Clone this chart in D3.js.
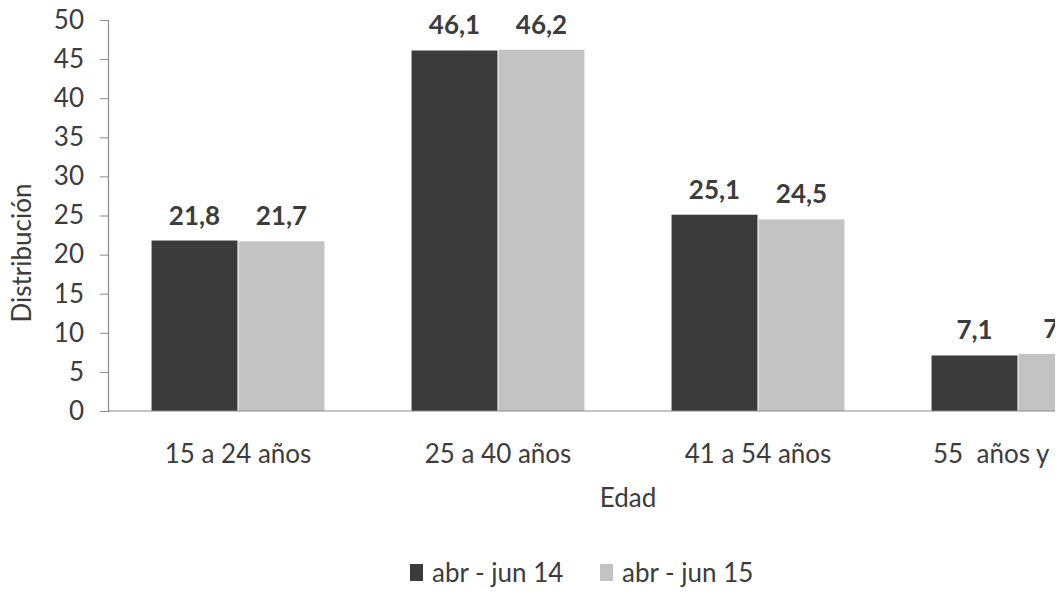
<!DOCTYPE html>
<html><head><meta charset="utf-8">
<script src="https://cdn.jsdelivr.net/npm/d3@7"></script>
<style>
body{margin:0;background:#fff;}
svg{display:block;}
text{font-family:Lato,"Open Sans",sans-serif;fill:#3c3c3c;}
</style></head>
<body>
<script>
const categories = ["15 a 24 años","25 a 40 años","41 a 54 años","55  años y más"];
const seriesNames = ["abr - jun 14","abr - jun 15"];
const series14 = [21.8, 46.1, 25.1, 7.1];
const series15 = [21.7, 46.2, 24.5, 7.3];
const yTicks = [0,5,10,15,20,25,30,35,40,45,50];
const colors = ["#3b3b3b","#c3c3c3"];

const W = 1064, H = 594, visibleW = 1055;
const FS = 26;
const svg = d3.select("body").append("svg").attr("width", W).attr("height", H);
svg.append("rect").attr("width", W).attr("height", H).attr("fill", "#fff");
svg.append("clipPath").attr("id","clip").append("rect").attr("width", visibleW).attr("height", H);
const g = svg.append("g").attr("clip-path","url(#clip)");

const x0 = 108, x1 = 1148, yTop = 20, yBot = 411;
const x = d3.scaleBand().domain(categories).range([x0, x1]).paddingInner(0.335).paddingOuter(0.1675);
const xs = d3.scaleBand().domain([0,1]).range([0, x.bandwidth()]).paddingInner(0.012);
const y = d3.scaleLinear().domain([0,50]).range([yBot, yTop]);

// bars
const data = categories.map((c,i)=>({c, v:[series14[i], series15[i]]}));
const grp = g.selectAll("g.grp").data(data).join("g").attr("class","grp")
  .attr("transform", d=>`translate(${x(d.c)},0)`);
grp.selectAll("rect").data(d=>d.v.map((v,k)=>({v,k}))).join("rect")
  .attr("x", d=>xs(d.k)).attr("width", xs.bandwidth())
  .attr("y", d=>y(d.v)).attr("height", d=>y(0)-y(d.v))
  .attr("fill", d=>colors[d.k]);
grp.selectAll("text.val").data(d=>d.v.map((v,k)=>({v,k}))).join("text").attr("class","val")
  .attr("x", d=>xs(d.k)+xs.bandwidth()/2).attr("y", d=>y(d.v)-16)
  .attr("text-anchor","middle").attr("font-size", FS).attr("font-weight","bold")
  .text(d=>d3.format(".1f")(d.v).replace(".",","));

// y axis
const yAxis = g.append("g").attr("transform",`translate(${x0},0)`)
  .call(d3.axisLeft(y).tickValues(yTicks).tickSize(8).tickPadding(16));
yAxis.select(".domain").attr("stroke","#8a8a8a").attr("stroke-width",1.2);
yAxis.selectAll(".tick line").attr("stroke","#8a8a8a");
yAxis.selectAll(".tick text").attr("font-size",FS).attr("font-family","Lato,sans-serif").attr("fill","#3c3c3c");

// x axis line
g.append("line").attr("x1",x0).attr("x2",x1).attr("y1",y(0)).attr("y2",y(0))
  .attr("stroke","#8a8a8a").attr("stroke-width",1.2);

// category labels
g.selectAll("text.cat").data(categories).join("text").attr("class","cat")
  .attr("x",(d,i)=> i===3 ? x(d)+x.bandwidth()/2-85 : x(d)+x.bandwidth()/2)
  .attr("text-anchor",(d,i)=> i===3 ? "start" : "middle")
  .attr("y",463).attr("font-size",FS).style("white-space","pre").text(d=>d);

// axis titles
g.append("text").attr("x",(x0+x1)/2).attr("y",507).attr("text-anchor","middle").attr("font-size",FS).text("Edad");
g.append("text").attr("transform","translate(31,253) rotate(-90)").attr("text-anchor","middle")
  .attr("font-size",FS).text("Distribución");

// legend
const leg = g.append("g");
const lx = [410, 600];
seriesNames.forEach((n,i)=>{
  leg.append("rect").attr("x",lx[i]).attr("y",564).attr("width",13).attr("height",17).attr("fill",colors[i]);
  leg.append("text").attr("x",lx[i]+22).attr("y",582).attr("font-size",FS).text(n);
});
</script>
</body></html>
